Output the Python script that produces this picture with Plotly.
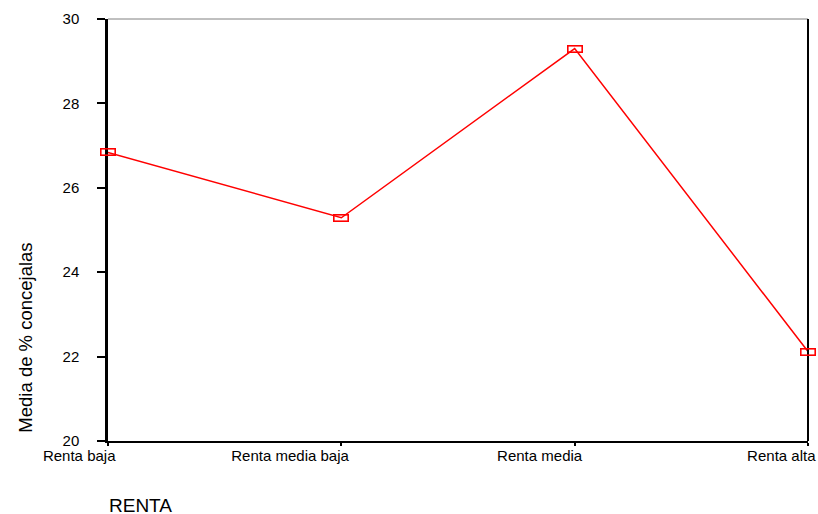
import plotly.graph_objects as go

categories = ["Renta baja", "Renta media baja", "Renta media", "Renta alta"]
values = [26.84, 25.29, 29.30, 22.12]
y_ticks = [20, 22, 24, 26, 28, 30]
y_title = "Media de % concejalas"
x_title = "RENTA"

RED = "#ff0000"
FONT = "Liberation Sans, Arial, sans-serif"

fig = go.Figure()
fig.add_trace(go.Scatter(
    x=categories, y=values, mode="lines",
    line=dict(color=RED, width=1.5),
    cliponaxis=False, showlegend=False, hoverinfo="skip",
))

# rectangular open markers drawn as annotation boxes at data coordinates
for c, v in zip(categories, values):
    fig.add_annotation(
        x=c, y=v, xref="x", yref="y", text=" ", showarrow=False,
        width=13, height=5, borderpad=0, borderwidth=1.6, bordercolor=RED,
        xanchor="center", yanchor="middle", font=dict(size=4),
    )

fig.update_layout(
    template="none",
    width=818, height=514,
    margin=dict(l=108, r=10, t=19, b=73),
    paper_bgcolor="white", plot_bgcolor="white",
    font=dict(family=FONT, size=15, color="black"),
    xaxis=dict(
        type="category", categoryorder="array", categoryarray=categories,
        range=[0, len(categories) - 1], automargin=False,
        showline=True, linecolor="black", linewidth=1.5,
        ticks="outside", ticklen=3, tickwidth=1.5, tickcolor="black",
        showgrid=False, zeroline=False,
        ticklabelposition="outside left", ticklabelshift=9,
        tickfont=dict(size=15),
    ),
    yaxis=dict(
        range=[y_ticks[0], y_ticks[-1]], tickvals=y_ticks, automargin=False,
        showline=True, linecolor="black", linewidth=2.5,
        ticks="outside", ticklen=8, tickwidth=1.5, tickcolor="black",
        showgrid=False, zeroline=False,
        ticklabelstandoff=15, tickfont=dict(size=15),
    ),
    shapes=[
        dict(type="line", xref="paper", yref="paper", x0=0, x1=1, y0=1, y1=1,
             line=dict(color="#808080", width=1)),
        dict(type="line", xref="paper", yref="paper", x0=1, x1=1, y0=0, y1=1,
             line=dict(color="black", width=2)),
    ],
)

fig.add_annotation(
    text=y_title, xref="paper", yref="paper", x=-0.118, y=0.016,
    xanchor="center", yanchor="bottom", textangle=-90, showarrow=False,
    font=dict(size=18.5, family=FONT, color="black"),
)
fig.add_annotation(
    text=x_title, xref="paper", yref="paper", x=-0.001, y=-0.152,
    xanchor="left", yanchor="middle", showarrow=False,
    font=dict(size=19, family=FONT, color="black"),
)

fig.write_html(
    "out.html",
    config={"displayModeBar": False},
    post_script="document.body.style.margin='0';document.body.style.overflow='hidden';",
)
